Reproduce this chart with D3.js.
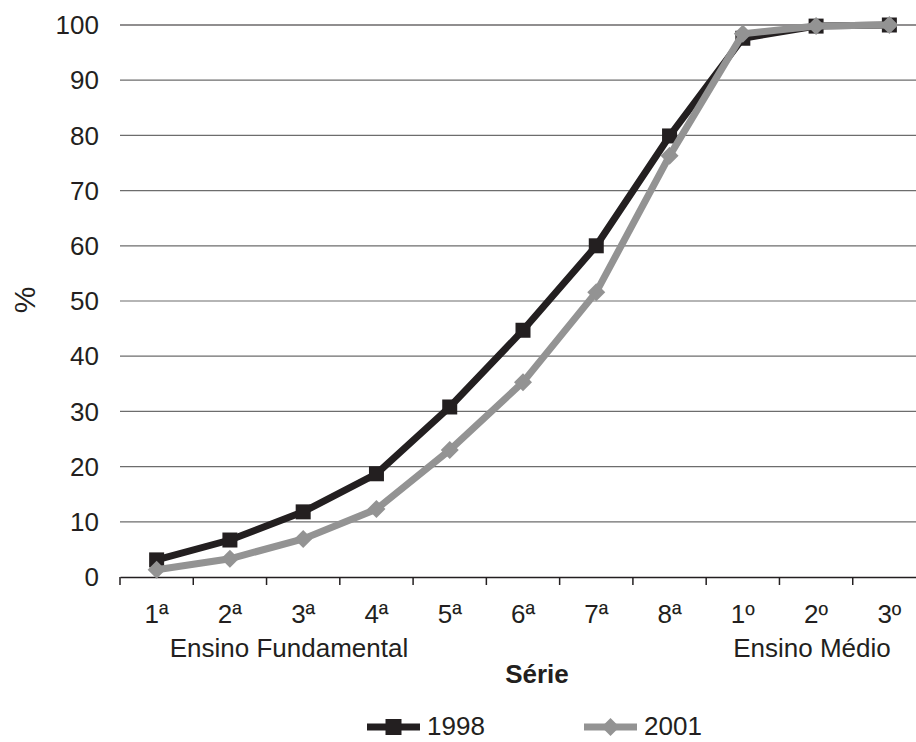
<!DOCTYPE html>
<html lang="pt">
<head>
<meta charset="UTF-8">
<title>Série x %</title>
<style>
  body { margin: 0; padding: 0; background: #fff; }
  svg { display: block; }
  text { font-family: "Liberation Sans", Arial, sans-serif; fill: #231f20; }
</style>
<script src="https://d3js.org/d3.v7.min.js"></script>
</head>
<body>
<script>
  // dados
  const series = ["1ª", "2ª", "3ª", "4ª", "5ª", "6ª", "7ª", "8ª", "1º", "2º", "3º"];
  const v1998 = [3.1, 6.7, 11.8, 18.7, 30.8, 44.7, 60.0, 79.9, 97.6, 99.8, 100];
  const v2001 = [1.3, 3.3, 6.9, 12.3, 23.0, 35.3, 51.6, 76.3, 98.4, 99.8, 100];
  const yTicks = [0, 10, 20, 30, 40, 50, 60, 70, 80, 90, 100];
  const years = ["1998", "2001"];

  const width = 916, height = 742;
  const plotLeft = 120, plotRight = 926, plotTop = 25, plotBottom = 577;

  const svg = d3.select("body").append("svg")
    .attr("width", width)
    .attr("height", height);

  svg.append("rect").attr("width", width).attr("height", height).attr("fill", "#fff");

  const x = d3.scaleBand().domain(series).range([plotLeft, plotRight]).padding(0);
  const y = d3.scaleLinear().domain([0, 100]).range([plotBottom, plotTop]);
  const cx = d => x(d) + x.bandwidth() / 2;

  // linhas de grade
  svg.append("g")
    .selectAll("line")
    .data(yTicks.filter(t => t > 0))
    .join("line")
    .attr("x1", plotLeft).attr("x2", plotRight)
    .attr("y1", d => y(d)).attr("y2", d => y(d))
    .attr("stroke", d => d === 100 ? "#231f20" : "#6d6d6d")
    .attr("stroke-width", 1.2);

  // eixo y (só rótulos)
  svg.append("g")
    .selectAll("text")
    .data(yTicks)
    .join("text")
    .attr("x", 99)
    .attr("y", d => y(d))
    .attr("dy", "0.35em")
    .attr("text-anchor", "end")
    .style("font-size", "26px")
    .text(d => d);

  // eixo x
  const xAxis = svg.append("g")
    .attr("transform", `translate(0,${plotBottom})`)
    .call(d3.axisBottom(x).tickSize(0).tickFormat(""));
  xAxis.select(".domain").attr("stroke", "#231f20").attr("stroke-width", 1.5);

  svg.append("g")
    .selectAll("line")
    .data(series)
    .join("line")
    .attr("x1", d => x(d)).attr("x2", d => x(d))
    .attr("y1", plotBottom).attr("y2", plotBottom + 8)
    .attr("stroke", "#231f20")
    .attr("stroke-width", 1.5);

  svg.append("g")
    .selectAll("text")
    .data(series)
    .join("text")
    .attr("x", d => cx(d))
    .attr("y", 623)
    .attr("text-anchor", "middle")
    .style("font-size", "26px")
    .text(d => d);

  svg.append("text").attr("x", 289).attr("y", 657).attr("text-anchor", "middle")
    .style("font-size", "26px").text("Ensino Fundamental");
  svg.append("text").attr("x", 812).attr("y", 657).attr("text-anchor", "middle")
    .style("font-size", "26px").text("Ensino Médio");
  svg.append("text").attr("x", 537).attr("y", 683).attr("text-anchor", "middle")
    .style("font-size", "26px").style("font-weight", "bold").text("Série");

  svg.append("text")
    .attr("transform", "translate(35,300) rotate(-90)")
    .attr("text-anchor", "middle")
    .style("font-size", "30px")
    .text("%");

  // linhas
  const line = d3.line().x((d, i) => cx(series[i])).y(d => y(d));
  const colors = { "1998": "#231f20", "2001": "#939393" };
  const data = { "1998": v1998, "2001": v2001 };

  const square = s => `M${-s},${-s}H${s}V${s}H${-s}Z`;
  const diamond = s => `M0,${-s}L${s},0L0,${s}L${-s},0Z`;

  years.forEach(yr => {
    svg.append("path")
      .datum(data[yr])
      .attr("d", line)
      .attr("fill", "none")
      .attr("stroke", colors[yr])
      .attr("stroke-width", 7)
      .attr("stroke-linejoin", "miter");

    svg.append("g")
      .selectAll("path")
      .data(data[yr])
      .join("path")
      .attr("transform", (d, i) => `translate(${cx(series[i])},${y(d)})`)
      .attr("d", yr === "1998" ? square(7.5) : diamond(9))
      .attr("fill", colors[yr]);
  });

  // legenda
  const legend = [
    { yr: "1998", x1: 367, x2: 420, tx: 427 },
    { yr: "2001", x1: 584, x2: 637, tx: 644 }
  ];
  legend.forEach(l => {
    const g = svg.append("g");
    g.append("line")
      .attr("x1", l.x1).attr("x2", l.x2)
      .attr("y1", 727).attr("y2", 727)
      .attr("stroke", colors[l.yr]).attr("stroke-width", 7);
    g.append("path")
      .attr("transform", `translate(${(l.x1 + l.x2) / 2},727)`)
      .attr("d", l.yr === "1998" ? square(8) : diamond(9))
      .attr("fill", colors[l.yr]);
    g.append("text")
      .attr("x", l.tx).attr("y", 735)
      .style("font-size", "26px")
      .text(l.yr);
  });
</script>
</body>
</html>
